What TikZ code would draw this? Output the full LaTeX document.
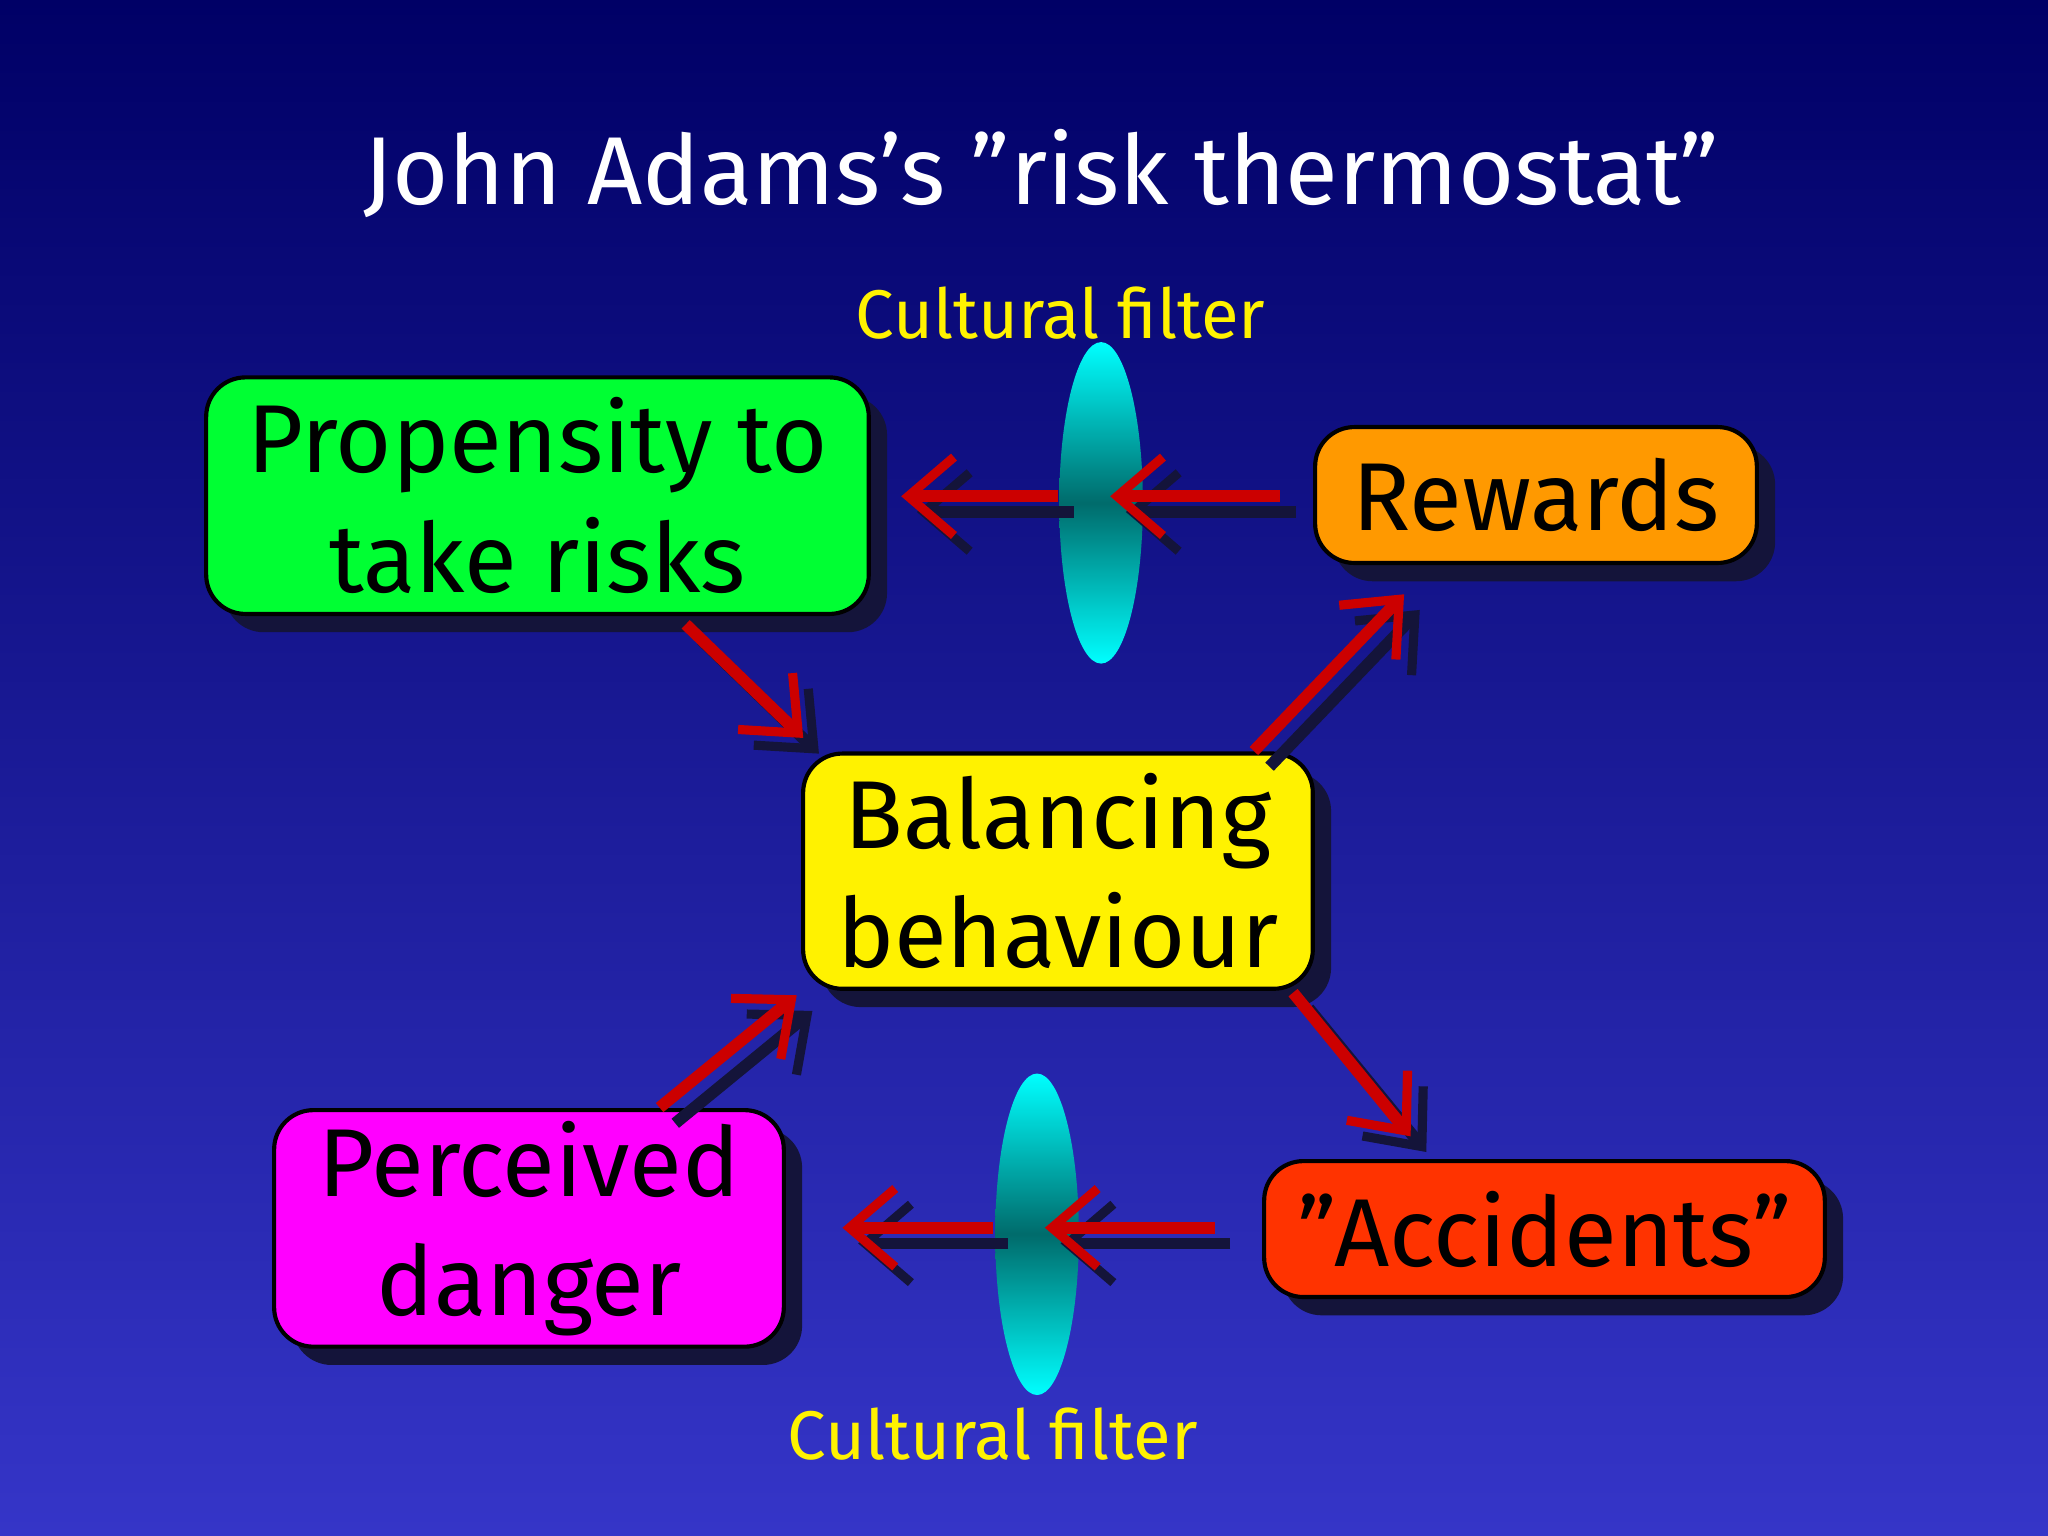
\documentclass[tikz,border=0pt]{standalone}
\usepackage{fontspec}
\setmainfont{Fira Sans}
\usetikzlibrary{shapes.geometric,arrows.meta,shadows}
\definecolor{bgtop}{HTML}{000066}
\definecolor{bgbot}{HTML}{3535C8}
\definecolor{shad}{HTML}{14143A}
\definecolor{arr}{HTML}{CC0000}
\definecolor{cgreen}{HTML}{00FF33}
\definecolor{corange}{HTML}{FF9900}
\definecolor{cred}{HTML}{FF3300}
\definecolor{cmag}{HTML}{FF00FF}
\tikzset{
 box/.style={draw=black,line width=0.9pt,rounded corners=0.3cm,align=center,font=\fontsize{21}{26}\selectfont,
   drop shadow={shadow xshift=0.14cm,shadow yshift=-0.14cm,fill=shad,opacity=1},inner sep=0pt},
 lens/.style={ellipse,minimum width=0.64cm,minimum height=2.46cm,inner sep=0pt,top color=cyan,bottom color=cyan,middle color=teal!80!cyan!70!black,shading angle=0},
 filt/.style={text=yellow,font=\fontsize{15}{18}\selectfont},
 ar/.style={arr,line width=0.09cm,-{Straight Barb[length=0.35cm,width=0.6cm,line width=0.07cm]}},
 ars/.style={shad,line width=0.09cm,-{Straight Barb[length=0.35cm,width=0.6cm,line width=0.07cm]}},
}
\begin{document}
\begin{tikzpicture}[x=0.01cm,y=-0.01cm]
\shade[top color=bgtop,bottom color=bgbot] (0,0) rectangle (1568,1176);
\useasboundingbox (0,0) rectangle (1568,1176);
\node[text=white,font=\fontsize{21}{25}\selectfont] (title) at (797,133) {John Adams's "risk thermostat"};
\node[filt] (f1) at (812,240) {Cultural filter};
\node[filt] (f2) at (760,1098) {Cultural filter};
\node[box,fill=cgreen,minimum width=5.07cm,minimum height=1.81cm] (prop) at (411.5,379.5) {Propensity to\\take risks};
\node[box,fill=corange,minimum width=3.38cm,minimum height=1.04cm] (rew) at (1176,379) {Rewards};
\node[box,fill=yellow,minimum width=3.9cm,minimum height=1.8cm] (bal) at (810,667) {Balancing\\behaviour};
\node[box,fill=cmag,minimum width=3.9cm,minimum height=1.81cm] (per) at (405,940.5) {Perceived\\danger};
\node[box,fill=cred,minimum width=4.29cm,minimum height=1.04cm] (acc) at (1182.5,941) {"Accidents"};
\node[lens] (l1) at (843,385) {};
\node[lens] (l2) at (794,945) {};
\coordinate (a1s) at (980,380); \coordinate (a1e) at (850,380);
\coordinate (a2s) at (810,380); \coordinate (a2e) at (690,380);
\coordinate (b1s) at (930,940); \coordinate (b1e) at (800,940);
\coordinate (b2s) at (760,940); \coordinate (b2e) at (645,940);
\coordinate (c1s) at (525,478); \coordinate (c1e) at (615,565);
\coordinate (c2s) at (960,575); \coordinate (c2e) at (1075,455);
\coordinate (c3s) at (990,760); \coordinate (c3e) at (1080,870);
\coordinate (c4s) at (505,848); \coordinate (c4e) at (610,762);
\foreach \s/\e in {a1s/a1e,a2s/a2e,b1s/b1e,b2s/b2e,c1s/c1e,c2s/c2e,c3s/c3e,c4s/c4e}{
  \draw[ars,transform canvas={xshift=0.12cm,yshift=-0.12cm}] (\s) -- (\e);
  \draw[ar] (\s) -- (\e);
}
\end{tikzpicture}
\end{document}
